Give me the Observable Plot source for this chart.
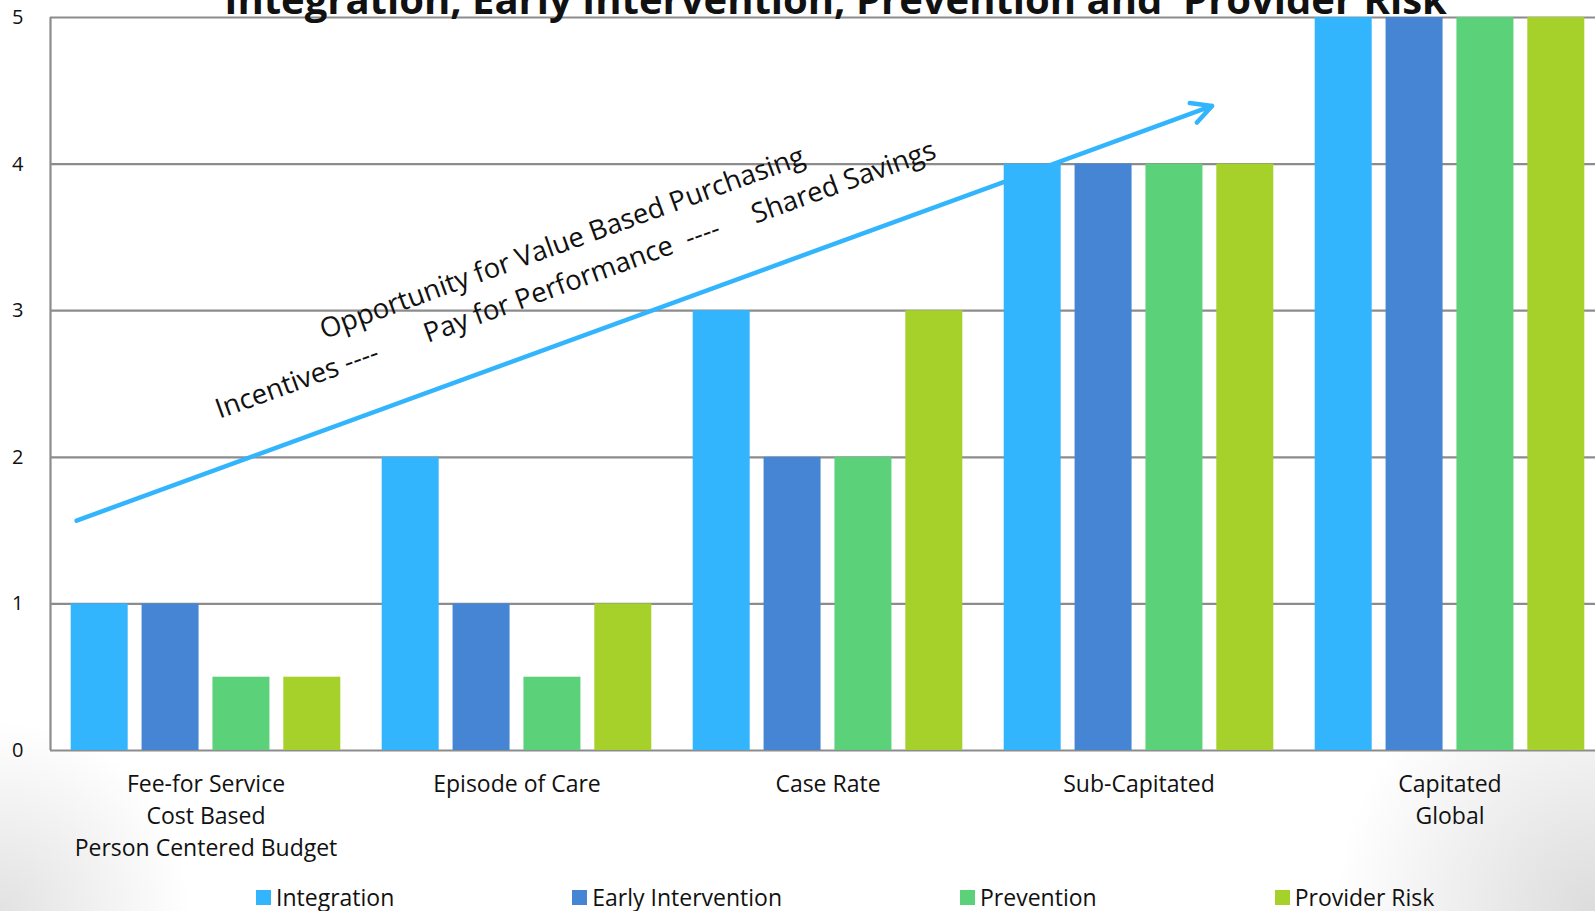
<!DOCTYPE html>
<html>
<head>
<meta charset="utf-8">
<script src="https://cdn.jsdelivr.net/npm/d3@7"></script>
<script src="https://cdn.jsdelivr.net/npm/@observablehq/plot@0.6"></script>
<style>
  html, body { margin: 0; padding: 0; }
  body {
    width: 1595px; height: 911px; overflow: hidden;
    font-family: "Open Sans", "Noto Sans", sans-serif; color: #111;
    background:
      radial-gradient(circle at 100% 100%, #dcdcdc 0px, rgba(255,255,255,0) 260px),
      radial-gradient(circle at 0% 100%, #e2e2e2 0px, rgba(255,255,255,0) 190px),
      #ffffff;
  }
  #wrap { position: relative; width: 1595px; height: 870px; }
  #wrap svg { position: absolute; left: 0; top: 0; overflow: visible; }
  #overlay { pointer-events: none; }
  #title {
    position: absolute; left: 0; width: 1671px; top: -19.5px; text-align: center;
    font-weight: 700; font-size: 40px; line-height: 36px; white-space: pre; z-index: 5;
  }
  #legend {
    display: flex; gap: 178px; padding-left: 256px; margin-top: 13px;
    font-size: 23px; line-height: 28px; white-space: nowrap;
  }
  .item { display: flex; align-items: center; }
  .sw { width: 15px; height: 15px; margin-right: 5px; }
</style>
</head>
<body>
<div id="wrap"><div id="title"></div></div>
<div id="legend"></div>
<script>
// ---- data ----
const title = "Integration, Early Intervention, Prevention and  Provider Risk";
const categories = [
  "Fee-for Service\nCost Based\nPerson Centered Budget",
  "Episode of Care",
  "Case Rate",
  "Sub-Capitated",
  "Capitated\nGlobal"
];
const series = ["Integration", "Early Intervention", "Prevention", "Provider Risk"];
const integration       = [1,   2,   3, 4, 5];
const earlyIntervention = [1,   1,   2, 4, 5];
const prevention        = [0.5, 0.5, 2, 4, 5];
const providerRisk      = [0.5, 1,   3, 4, 5];
const yTicks = [0, 1, 2, 3, 4, 5];
const colors = ["#33b5fd", "#4585d4", "#5bd17a", "#a6d12b"];

// annotation (in chart units: x = category index, y = value)
const annotationText = "Opportunity for Value Based Purchasing\nIncentives ----\u00a0\u00a0\u00a0\u00a0\u00a0\u00a0\u00a0Pay for Performance\u00a0\u00a0----\u00a0\u00a0\u00a0\u00a0\u00a0Shared Savings";
const annotationPos = [1.663, 3.359];
const arrowStart = [0.084, 1.568];
const arrowEnd = [3.735, 4.397];

// ---- build ----
const valuesBySeries = [integration, earlyIntervention, prevention, providerRisk];
const data = categories.flatMap((c, i) =>
  series.map((s, j) => ({category: c, series: s, value: valuesBySeries[j][i]})));

const W = 1595, H = 870;
const margins = {marginLeft: 50, marginRight: -10, marginTop: 17, marginBottom: 120};
const font = {fontFamily: "'Open Sans', 'Noto Sans', sans-serif", color: "#111", background: "transparent"};

document.getElementById("title").textContent = title;

const chart = Plot.plot({
  width: W, height: H, ...margins,
  style: {...font, fontSize: "21px"},
  fx: {domain: categories, padding: 0, round: false, label: null},
  x: {domain: series, paddingInner: 0.196, paddingOuter: 0.292, round: false, axis: null},
  y: {domain: [0, 5], label: null},
  color: {domain: series, range: colors},
  marks: [
    Plot.frame({fill: "white", stroke: null}),
    Plot.ruleY(yTicks, {stroke: "#8c8c8c", strokeWidth: 2.2}),
    Plot.barY(data, {fx: "category", x: "series", y: "value", fill: "series"}),
    Plot.axisY(yTicks, {tickSize: 0, tickPadding: 27, fontSize: 20, label: null, fill: "#111", tickFormat: d => String(d)}),
    Plot.axisFx({anchor: "bottom", tickSize: 0, tickPadding: 18, fontSize: 23, lineHeight: 1.41, label: null, fill: "#111"})
  ]
});
document.getElementById("wrap").appendChild(chart);

const overlay = Plot.plot({
  width: W, height: H, ...margins,
  style: {...font, fontSize: "27px"},
  x: {domain: [0, 5], axis: null},
  y: {domain: [0, 5], axis: null},
  marks: [
    Plot.ruleX([0], {y1: 0, y2: 5, stroke: "#8c8c8c", strokeWidth: 2.2}),
    Plot.arrow([[...arrowStart, ...arrowEnd]], {
      x1: d => d[0], y1: d => d[1], x2: d => d[2], y2: d => d[3],
      stroke: colors[0], strokeWidth: 4.5, headLength: 7.5, headAngle: 55
    }),
    Plot.text([annotationText], {
      x: () => annotationPos[0], y: () => annotationPos[1], text: d => d,
      rotate: -20, fontSize: 27.5, lineHeight: 1.42, fill: "#111", textAnchor: "middle"
    })
  ]
});
overlay.id = "overlay";
document.getElementById("wrap").appendChild(overlay);

const legend = document.getElementById("legend");
series.forEach((s, i) => {
  const it = document.createElement("div");
  it.className = "item";
  it.innerHTML = `<span class="sw" style="background:${colors[i]}"></span><span>${s}</span>`;
  legend.appendChild(it);
});
</script>
</body>
</html>
